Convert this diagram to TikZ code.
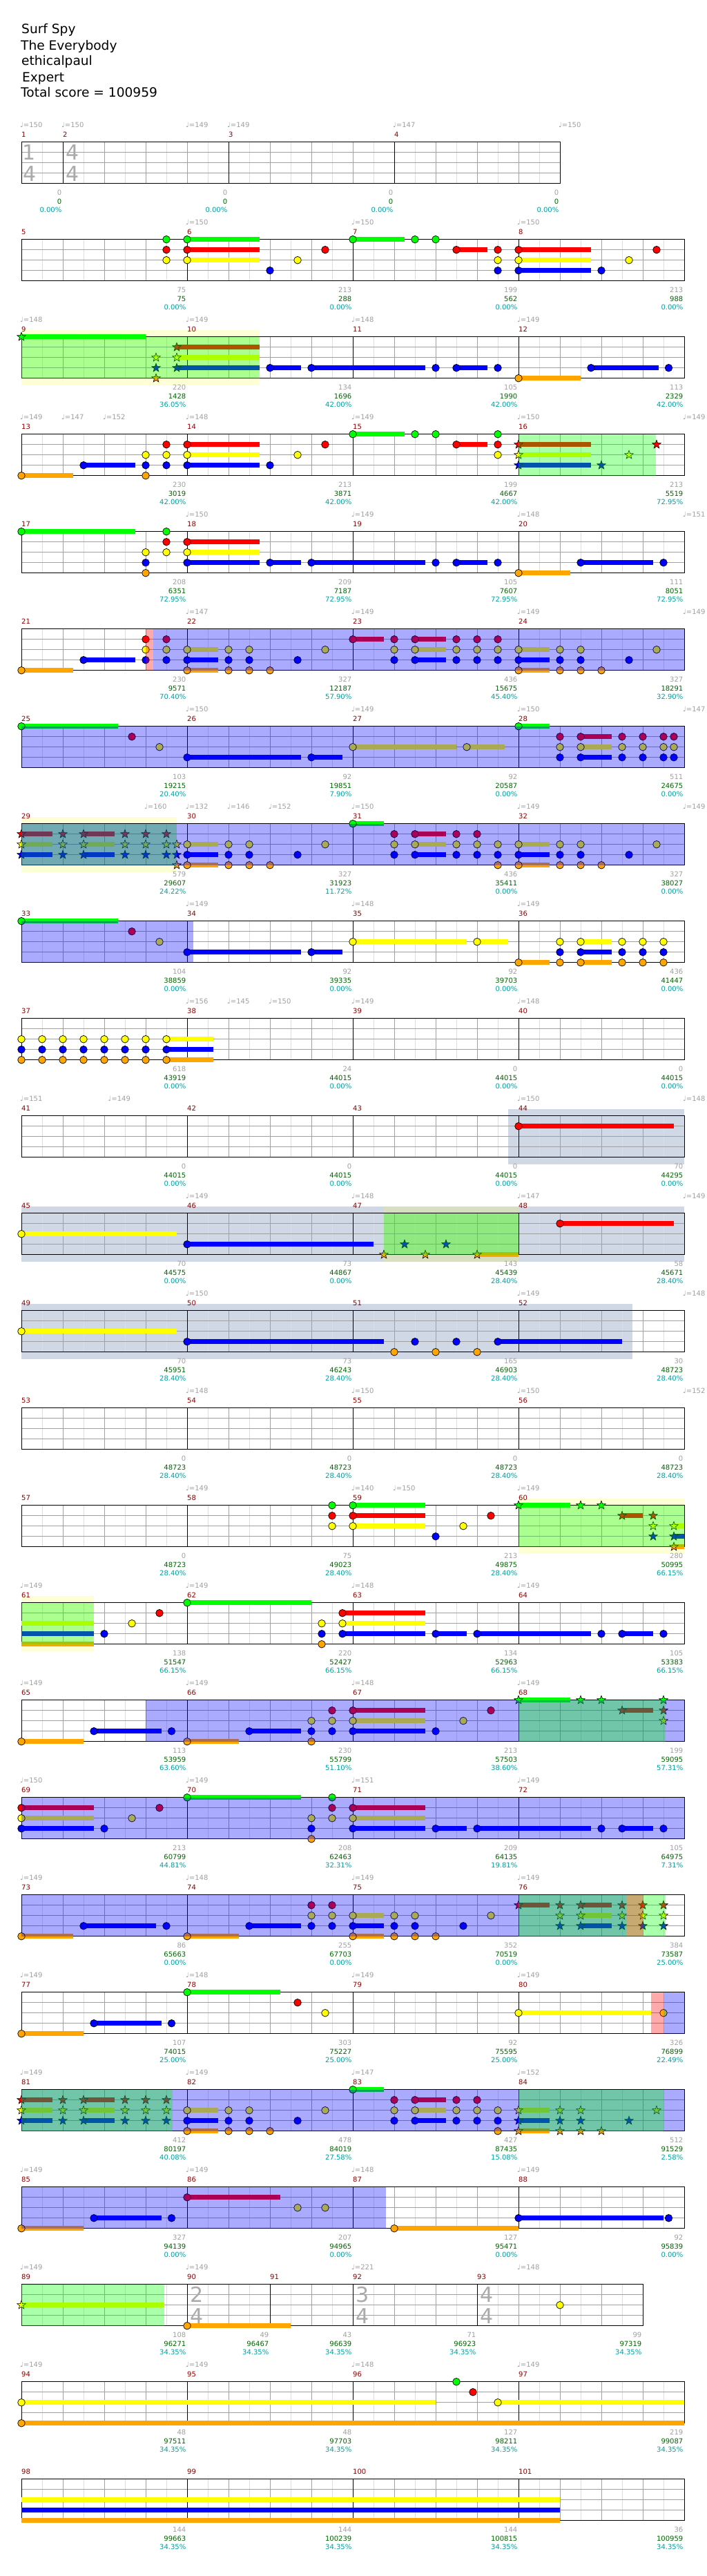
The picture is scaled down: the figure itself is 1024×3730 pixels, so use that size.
\documentclass[tikz,border=0pt]{standalone}
\usepackage{fontspec}
\setmainfont{DejaVu Sans}
\definecolor{nG}{RGB}{0,255,0}
\definecolor{nR}{RGB}{255,0,0}
\definecolor{nY}{RGB}{255,255,0}
\definecolor{nB}{RGB}{0,0,255}
\definecolor{nO}{RGB}{255,165,0}
\definecolor{gridA}{RGB}{160,160,160}
\definecolor{gridB}{RGB}{222,222,222}
\definecolor{mnumc}{RGB}{139,0,0}
\definecolor{txgray}{RGB}{160,160,160}
\definecolor{txgreen}{RGB}{0,100,0}
\definecolor{txteal}{RGB}{0,160,160}
\definecolor{solo}{RGB}{209,216,229}
\definecolor{tsig}{RGB}{170,170,170}
\def\laneG{0}\def\laneR{1}\def\laneY{2}\def\laneB{3}\def\laneO{4}
\newcommand\fsm{\fontsize{10}{12}\selectfont}
\newcommand\ftitle{\fontsize{18.6}{22}\selectfont}
\tikzset{
  mnum/.style={anchor=base west,inner sep=0,yshift=7pt,text=mnumc,font=\fsm},
  tmp/.style={anchor=base west,inner sep=0,yshift=21pt,xshift=-2pt,text=txgray,font=\fsm},
  tg/.style={anchor=base east,inner sep=0,xshift=-1.5pt,yshift=-16.4pt,text=txgray,font=\fsm},
  tgr/.style={anchor=base east,inner sep=0,xshift=-1.5pt,yshift=-30pt,text=txgreen,font=\fsm},
  tte/.style={anchor=base east,inner sep=0,xshift=-1.5pt,yshift=-42pt,text=txteal,font=\fsm},
  tsg/.style={inner sep=0,text=tsig,font=\fontsize{30}{30}\selectfont},
  ttl/.style={anchor=base west,inner sep=0,font=\ftitle}
}
\newcommand\staffgrid[1]{%
  \foreach \i in {1,...,#1}{\draw[gridB,line width=0.8pt] (\i-0.5,0) -- (\i-0.5,4);}
  \foreach \i in {1,...,#1}{\draw[gridA,line width=0.8pt] (\i,0) -- (\i,4);}
  \foreach \j in {1,2,3}{\draw[gridA,line width=0.8pt] (0,\j) -- (#1,\j);}}
\newcommand\mline[2]{\draw[black,line width=0.8pt] (#1,0) -- (#1,4); \node[mnum] at (#1,0) {#2};}
\newcommand\border[1]{\draw[black,line width=1pt] (0,0) rectangle (#1,4);}
\newcommand\fourm[4]{\staffgrid{16}\mline{0}{#1}\mline{4}{#2}\mline{8}{#3}\mline{12}{#4}\border{16}}
\newcommand\tempo[2]{\node[tmp] at (#1,0) {\char"2669=#2};}
\newcommand\mt[4]{\node[tg] at (#1,4) {#2}; \node[tgr] at (#1,4) {#3}; \node[tte] at (#1,4) {#4};}
\newcommand\ch[2]{\foreach \l in {#2}{\filldraw[fill=n\l,draw=black,line width=0.7pt] (#1,{\csname lane\l\endcsname}) circle[radius=5.3pt];}}
\newcommand\su[3]{\foreach \l in {#3}{\fill[n\l] (#1,{\csname lane\l\endcsname-0.222}) rectangle (#2,{\csname lane\l\endcsname+0.222});}}
\newcommand\st[2]{\foreach \l in {#2}{\filldraw[fill=n\l,draw=black,line width=0.6pt,shift={(#1,{\csname lane\l\endcsname})}] (90:6.5pt)--(126:2.7pt)--(162:6.5pt)--(198:2.7pt)--(234:6.5pt)--(270:2.7pt)--(306:6.5pt)--(342:2.7pt)--(18:6.5pt)--(54:2.7pt)--cycle;}}
\newcommand\ovG[2]{\fill[nG,opacity=0.333] (#1,0) rectangle (#2,4);}
\newcommand\ovB[2]{\fill[nB,opacity=0.333] (#1,0) rectangle (#2,4);}
\newcommand\ovR[2]{\fill[nR,opacity=0.333] (#1,0) rectangle (#2,4);}
\newcommand\zY[2]{\fill[nY,opacity=0.16] (#1,-0.667) rectangle (#2,4.667);}
\newcommand\zS[2]{\fill[solo] (#1,-0.667) rectangle (#2,4.667);}
\begin{document}
\begin{tikzpicture}
\useasboundingbox (0,0) rectangle (1024pt,-3730pt);
\fill[white] (0,0) rectangle (1024pt,-3730pt);
\node[ttl] (t1) at (31pt,-49pt) {Surf Spy};
\node[ttl] (t2) at (30pt,-72.3pt) {The Everybody};
\node[ttl] (t3) at (31pt,-95pt) {ethicalpaul};
\node[ttl] (t4) at (32pt,-118.3pt) {Expert};
\node[ttl] (t5) at (30pt,-141pt) {Total score = 100959};
% ROW 1
\begin{scope}[shift={(31pt,-205.7pt)},x=60pt,y=-15pt]
\staffgrid{13}\mline{0}{1}\mline{1}{2}\mline{5}{3}\mline{9}{4}\border{13}
\node[tsg] at (0.18,1) {1};\node[tsg] at (0.2,3.07) {4};
\node[tsg] at (1.23,1) {4};\node[tsg] at (1.23,3.07) {4};
\tempo{0}{150}\tempo{1}{150}\tempo{4}{149}\tempo{5}{149}\tempo{9}{147}\tempo{13}{150}
\mt{1}{0}{0}{0.00\%}\mt{5}{0}{0}{0.00\%}\mt{9}{0}{0}{0.00\%}\mt{13}{0}{0}{0.00\%}
\end{scope}
% ROW 2
\begin{scope}[shift={(31pt,-346.7pt)},x=60pt,y=-15pt]
\fourm{5}{6}{7}{8}
\tempo{4}{150}\tempo{8}{150}\tempo{12}{150}
\su{4}{5.75}{G,R,Y}\su{8}{9.25}{G}\su{10.5}{11.25}{R}\su{12}{13.75}{R,Y,B}
\ch{3.5}{G,R,Y}\ch{4}{G,R,Y}\ch{6}{B}\ch{6.667}{Y}\ch{7.333}{R}\ch{8}{G}\ch{9.5}{G}\ch{10}{G}\ch{10.5}{R}\ch{11.5}{R,Y,B}\ch{12}{R,Y,B}\ch{14}{B}\ch{14.667}{Y}\ch{15.333}{R}
\mt{4}{75}{75}{0.00\%}\mt{8}{213}{288}{0.00\%}\mt{12}{199}{562}{0.00\%}\mt{16}{213}{988}{0.00\%}
\end{scope}
% ROW 3
\begin{scope}[shift={(31pt,-487.7pt)},x=60pt,y=-15pt]
\zY{0}{5.75}
\fourm{9}{10}{11}{12}
\tempo{0}{148}\tempo{4}{149}\tempo{8}{148}\tempo{12}{149}
\su{0}{3}{G}\su{3.75}{5.75}{R,Y,B}\su{6}{6.75}{B}\su{7}{9.75}{B}\su{10.5}{11.25}{B}\su{12}{13.5}{O}\su{13.75}{15.375}{B}
\st{0}{G}\st{3.25}{Y,B,O}\st{3.75}{R,Y,B}
\ch{6}{B}\ch{7}{B}\ch{10}{B}\ch{10.5}{B}\ch{11.5}{B}\ch{12}{O}\ch{13.75}{B}\ch{15.625}{B}
\ovG{0}{5.75}
\mt{4}{220}{1428}{36.05\%}\mt{8}{134}{1696}{42.00\%}\mt{12}{105}{1990}{42.00\%}\mt{16}{113}{2329}{42.00\%}
\end{scope}
% ROW 4
\begin{scope}[shift={(31pt,-628.7pt)},x=60pt,y=-15pt]
\fourm{13}{14}{15}{16}
\tempo{0}{149}\tempo{1}{147}\tempo{2}{152}\tempo{4}{148}\tempo{8}{149}\tempo{12}{150}\tempo{16}{149}
\su{0}{1.25}{O}\su{1.5}{2.75}{B}\su{4}{5.75}{R,Y,B}\su{8}{9.25}{G}\su{10.5}{11.25}{R}\su{12}{13.75}{R,Y,B}
\ch{0}{O}\ch{1.5}{B}\ch{3}{Y,B,O}\ch{3.5}{R,Y,B}\ch{4}{R,Y,B}\ch{6}{B}\ch{6.667}{Y}\ch{7.333}{R}\ch{8}{G}\ch{9.5}{G}\ch{10}{G}\ch{10.5}{R}\ch{11.5}{G,R,Y}
\st{12}{R,Y,B}\st{14}{B}\st{14.667}{Y}
\ovG{12}{15.31}
\st{15.333}{R}
\mt{4}{230}{3019}{42.00\%}\mt{8}{213}{3871}{42.00\%}\mt{12}{199}{4667}{42.00\%}\mt{16}{213}{5519}{72.95\%}
\end{scope}
% ROW 5
\begin{scope}[shift={(31pt,-769.7pt)},x=60pt,y=-15pt]
\fourm{17}{18}{19}{20}
\tempo{4}{150}\tempo{8}{149}\tempo{12}{148}\tempo{16}{151}
\su{0}{2.75}{G}\su{4}{5.75}{R,Y,B}\su{6}{6.75}{B}\su{7}{9.75}{B}\su{10.5}{11.25}{B}\su{12}{13.25}{O}\su{13.5}{15.25}{B}
\ch{0}{G}\ch{3}{Y,B,O}\ch{3.5}{G,R,Y}\ch{4}{R,Y,B}\ch{6}{B}\ch{7}{B}\ch{10}{B}\ch{10.5}{B}\ch{11.5}{B}\ch{12}{O}\ch{13.5}{B}\ch{15.5}{B}
\mt{4}{208}{6351}{72.95\%}\mt{8}{209}{7187}{72.95\%}\mt{12}{105}{7607}{72.95\%}\mt{16}{111}{8051}{72.95\%}
\end{scope}
% ROW 6
\begin{scope}[shift={(31pt,-910.7pt)},x=60pt,y=-15pt]
\fourm{21}{22}{23}{24}
\tempo{4}{147}\tempo{8}{149}\tempo{12}{149}\tempo{16}{149}
\su{0}{1.25}{O}\su{1.5}{2.75}{B}\su{4}{4.75}{Y,B,O}\su{8}{8.75}{R}\su{9.5}{10.25}{R,Y,B}\su{12}{12.75}{Y,B,O}
\ch{0}{O}\ch{1.5}{B}\ch{3}{R,Y,B}\ch{3.5}{R,Y,B}\ch{4}{Y,B,O}\ch{5}{Y,B,O}\ch{5.5}{Y,B,O}\ch{6}{O}\ch{6.667}{B}\ch{7.333}{Y}\ch{8}{R}\ch{9}{R,Y,B}\ch{9.5}{R,Y,B}\ch{10.5}{R,Y,B}\ch{11}{R,Y,B}\ch{11.5}{R,Y,B}\ch{12}{Y,B,O}\ch{13}{Y,B,O}\ch{13.5}{Y,B,O}\ch{14}{O}\ch{14.667}{B}\ch{15.333}{Y}
\ovR{3}{3.18}\ovB{3.18}{16}
\mt{4}{230}{9571}{70.40\%}\mt{8}{327}{12187}{57.90\%}\mt{12}{436}{15675}{45.40\%}\mt{16}{327}{18291}{32.90\%}
\end{scope}
% ROW 7
\begin{scope}[shift={(31pt,-1051.7pt)},x=60pt,y=-15pt]
\fourm{25}{26}{27}{28}
\tempo{4}{150}\tempo{8}{149}\tempo{12}{150}\tempo{16}{147}
\su{0}{2.33}{G}\su{4}{6.75}{B}\su{7}{7.75}{B}\su{8}{10.5}{Y}\su{10.75}{11.67}{Y}\su{12}{12.75}{G}\su{13.5}{14.25}{R,Y,B}
\ch{0}{G}\ch{2.667}{R}\ch{3.333}{Y}\ch{4}{B}\ch{7}{B}\ch{8}{Y}\ch{10.75}{Y}\ch{12}{G}\ch{13}{R,Y,B}\ch{13.5}{R,Y,B}\ch{14.5}{R,Y,B}\ch{15}{R,Y,B}\ch{15.5}{R,Y,B}\ch{15.75}{R,Y,B}
\ovB{0}{16}
\mt{4}{103}{19215}{20.40\%}\mt{8}{92}{19851}{7.90\%}\mt{12}{92}{20587}{0.00\%}\mt{16}{511}{24675}{0.00\%}
\end{scope}
% ROW 8
\begin{scope}[shift={(31pt,-1192.7pt)},x=60pt,y=-15pt]
\zY{0}{3.75}
\fourm{29}{30}{31}{32}
\tempo{3}{160}\tempo{4}{132}\tempo{5}{146}\tempo{6}{152}\tempo{8}{150}\tempo{12}{149}\tempo{16}{149}
\su{0}{0.75}{R,Y,B}\su{1.5}{2.25}{R,Y,B}\su{4}{4.75}{Y,B,O}\su{8}{8.75}{G}\su{9.5}{10.25}{R,Y,B}\su{12}{12.75}{Y,B,O}
\st{0}{R,Y,B}\st{1}{R,Y,B}\st{1.5}{R,Y,B}\st{2.5}{R,Y,B}\st{3}{R,Y,B}\st{3.5}{R,Y,B}\st{3.75}{Y,B,O}
\ch{4}{Y,B,O}\ch{5}{Y,B,O}\ch{5.5}{Y,B,O}\ch{6}{O}\ch{6.667}{B}\ch{7.333}{Y}\ch{8}{G}\ch{9}{R,Y,B}\ch{9.5}{R,Y,B}\ch{10.5}{R,Y,B}\ch{11}{R,Y,B}\ch{11.5}{Y,B,O}\ch{12}{Y,B,O}\ch{13}{Y,B,O}\ch{13.5}{Y,B,O}\ch{14}{O}\ch{14.667}{B}\ch{15.333}{Y}
\ovG{0}{3.75}\ovB{0}{16}
\mt{4}{579}{29607}{24.22\%}\mt{8}{327}{31923}{11.72\%}\mt{12}{436}{35411}{0.00\%}\mt{16}{327}{38027}{0.00\%}
\end{scope}
% ROW 9
\begin{scope}[shift={(31pt,-1333.7pt)},x=60pt,y=-15pt]
\fourm{33}{34}{35}{36}
\tempo{4}{149}\tempo{8}{148}\tempo{12}{149}
\su{0}{2.33}{G}\su{4}{6.75}{B}\su{7}{7.75}{B}\su{8}{10.75}{Y}\su{11}{11.75}{Y}\su{12}{12.75}{O}\su{13.5}{14.25}{Y,B,O}
\ch{0}{G}\ch{2.667}{R}\ch{3.333}{Y}\ch{4}{B}\ch{7}{B}\ch{8}{Y}\ch{11}{Y}\ch{12}{O}\ch{13}{Y,B,O}\ch{13.5}{Y,B,O}\ch{14.5}{Y,B,O}\ch{15}{Y,B,O}\ch{15.5}{Y,B,O}
\ovB{0}{4.15}
\mt{4}{104}{38859}{0.00\%}\mt{8}{92}{39335}{0.00\%}\mt{12}{92}{39703}{0.00\%}\mt{16}{436}{41447}{0.00\%}
\end{scope}
% ROW 10
\begin{scope}[shift={(31pt,-1474.7pt)},x=60pt,y=-15pt]
\fourm{37}{38}{39}{40}
\tempo{4}{156}\tempo{5}{145}\tempo{6}{150}\tempo{8}{149}\tempo{12}{148}
\su{3.5}{4.625}{Y,B,O}
\foreach \bb in {0,0.5,...,3.5}{\ch{\bb}{Y,B,O}}
\mt{4}{618}{43919}{0.00\%}\mt{8}{24}{44015}{0.00\%}\mt{12}{0}{44015}{0.00\%}\mt{16}{0}{44015}{0.00\%}
\end{scope}
% ROW 11
\begin{scope}[shift={(31pt,-1615.7pt)},x=60pt,y=-15pt]
\zS{11.75}{16}
\fourm{41}{42}{43}{44}
\tempo{0}{151}\tempo{2.125}{149}\tempo{12}{150}\tempo{16}{148}
\su{12}{15.75}{R}\ch{12}{R}
\mt{4}{0}{44015}{0.00\%}\mt{8}{0}{44015}{0.00\%}\mt{12}{0}{44015}{0.00\%}\mt{16}{70}{44295}{0.00\%}
\end{scope}
% ROW 12
\begin{scope}[shift={(31pt,-1756.7pt)},x=60pt,y=-15pt]
\zS{0}{16}\zY{8.75}{12}
\fourm{45}{46}{47}{48}
\tempo{4}{149}\tempo{8}{148}\tempo{12}{147}\tempo{16}{149}
\su{0}{3.75}{Y}\su{4}{8.5}{B}\su{11}{12}{O}\su{13}{15.75}{R}
\ch{0}{Y}\ch{4}{B}\ch{13}{R}
\st{8.75}{O}\st{9.25}{B}\st{9.75}{O}\st{10.25}{B}\st{11}{O}
\ovG{8.75}{12}
\mt{4}{70}{44575}{0.00\%}\mt{8}{73}{44867}{0.00\%}\mt{12}{143}{45439}{28.40\%}\mt{16}{58}{45671}{28.40\%}
\end{scope}
% ROW 13
\begin{scope}[shift={(31pt,-1897.7pt)},x=60pt,y=-15pt]
\zS{0}{14.75}
\fourm{49}{50}{51}{52}
\tempo{4}{150}\tempo{12}{149}\tempo{16}{148}
\su{0}{3.75}{Y}\su{4}{8.75}{B}\su{11.5}{14.5}{B}
\ch{0}{Y}\ch{4}{B}\ch{9}{O}\ch{9.5}{B}\ch{10}{O}\ch{10.5}{B}\ch{11}{O}\ch{11.5}{B}
\mt{4}{70}{45951}{28.40\%}\mt{8}{73}{46243}{28.40\%}\mt{12}{165}{46903}{28.40\%}\mt{16}{30}{48723}{28.40\%}
\end{scope}
% ROW 14
\begin{scope}[shift={(31pt,-2038.7pt)},x=60pt,y=-15pt]
\fourm{53}{54}{55}{56}
\tempo{4}{148}\tempo{8}{150}\tempo{12}{150}\tempo{16}{152}
\mt{4}{0}{48723}{28.40\%}\mt{8}{0}{48723}{28.40\%}\mt{12}{0}{48723}{28.40\%}\mt{16}{0}{48723}{28.40\%}
\end{scope}
% ROW 15
\begin{scope}[shift={(31pt,-2179.7pt)},x=60pt,y=-15pt]
\zY{12}{16}
\fourm{57}{58}{59}{60}
\tempo{4}{149}\tempo{8}{140}\tempo{9}{150}\tempo{12}{149}
\su{8}{9.75}{G,R,Y}\su{12}{13.25}{G}\su{14.5}{15}{R}\su{15.75}{16}{Y,B,O}
\ch{7.5}{G,R,Y}\ch{8}{G,R,Y}\ch{10}{B}\ch{10.667}{Y}\ch{11.333}{R}
\st{12}{G}\st{13.5}{G}\st{14}{G}\st{14.5}{R}\st{15.25}{R,Y,B}\st{15.75}{Y,B,O}
\ovG{12}{16}
\mt{4}{0}{48723}{28.40\%}\mt{8}{75}{49023}{28.40\%}\mt{12}{213}{49875}{28.40\%}\mt{16}{280}{50995}{66.15\%}
\end{scope}
% ROW 16
\begin{scope}[shift={(31pt,-2320.7pt)},x=60pt,y=-15pt]
\zY{0}{1.75}
\fourm{61}{62}{63}{64}
\tempo{0}{149}\tempo{4}{149}\tempo{8}{148}\tempo{12}{149}
\su{0}{1.75}{Y,B,O}\su{4}{7}{G}\su{7.75}{9.75}{R,Y,B}\su{10}{10.75}{B}\su{11}{13.75}{B}\su{14.5}{15.25}{B}
\ch{2}{B}\ch{2.667}{Y}\ch{3.333}{R}\ch{4}{G}\ch{7.25}{Y,B,O}\ch{7.75}{R,Y,B}\ch{10}{B}\ch{11}{B}\ch{14}{B}\ch{14.5}{B}\ch{15.5}{B}
\ovG{0}{1.75}
\mt{4}{138}{51547}{66.15\%}\mt{8}{220}{52427}{66.15\%}\mt{12}{134}{52963}{66.15\%}\mt{16}{105}{53383}{66.15\%}
\end{scope}
% ROW 17
\begin{scope}[shift={(31pt,-2461.7pt)},x=60pt,y=-15pt]
\fourm{65}{66}{67}{68}
\tempo{0}{149}\tempo{4}{149}\tempo{8}{148}\tempo{12}{149}
\su{0}{1.5}{O}\su{1.75}{3.375}{B}\su{4}{5.25}{O}\su{5.5}{6.75}{B}\su{8}{9.75}{R,Y,B}\su{12}{13.25}{G}\su{14.5}{15.25}{R}
\ch{0}{O}\ch{1.75}{B}\ch{3.625}{B}\ch{4}{O}\ch{5.5}{B}\ch{7}{Y,B,O}\ch{7.5}{R,Y,B}\ch{8}{R,Y,B}\ch{10}{B}\ch{10.667}{Y}\ch{11.333}{R}
\st{12}{G}\st{13.5}{G}\st{14}{G}\st{14.5}{R}\st{15.5}{G,R,Y}
\ovB{3}{16}\ovG{12}{15.55}
\mt{4}{113}{53959}{63.60\%}\mt{8}{230}{55799}{51.10\%}\mt{12}{213}{57503}{38.60\%}\mt{16}{199}{59095}{57.31\%}
\end{scope}
% ROW 18
\begin{scope}[shift={(31pt,-2602.7pt)},x=60pt,y=-15pt]
\fourm{69}{70}{71}{72}
\tempo{0}{150}\tempo{4}{149}\tempo{8}{151}\tempo{12}{149}
\su{0}{1.75}{R,Y,B}\su{4}{6.75}{G}\su{8}{9.75}{R,Y,B}\su{10}{10.75}{B}\su{11}{13.75}{B}\su{14.5}{15.25}{B}
\ch{0}{R,Y,B}\ch{2}{B}\ch{2.667}{Y}\ch{3.333}{R}\ch{4}{G}\ch{7}{Y,B,O}\ch{7.5}{G,R,Y}\ch{8}{R,Y,B}\ch{10}{B}\ch{11}{B}\ch{14}{B}\ch{14.5}{B}\ch{15.5}{B}
\ovB{0}{16}
\mt{4}{213}{60799}{44.81\%}\mt{8}{208}{62463}{32.31\%}\mt{12}{209}{64135}{19.81\%}\mt{16}{105}{64975}{7.31\%}
\end{scope}
% ROW 19
\begin{scope}[shift={(31pt,-2743.7pt)},x=60pt,y=-15pt]
\fourm{73}{74}{75}{76}
\tempo{0}{149}\tempo{4}{148}\tempo{8}{149}\tempo{12}{149}
\su{0}{1.25}{O}\su{1.5}{3.25}{B}\su{4}{5.25}{O}\su{5.5}{6.75}{B}\su{8}{8.75}{Y,B,O}\su{12}{12.75}{R}\su{13.5}{14.25}{R,Y,B}
\ch{0}{O}\ch{1.5}{B}\ch{3.5}{B}\ch{4}{O}\ch{5.5}{B}\ch{7}{R,Y,B}\ch{7.5}{R,Y,B}\ch{8}{Y,B,O}\ch{9}{Y,B,O}\ch{9.5}{Y,B,O}\ch{10}{O}\ch{10.667}{B}\ch{11.333}{Y}
\st{12}{R}\st{13}{R,Y,B}\st{13.5}{R,Y,B}\st{14.5}{R,Y,B}\st{15}{R,Y,B}\st{15.5}{R,Y,B}
\ovB{0}{14.6}\ovG{12}{15.55}\ovR{14.6}{15}
\mt{4}{86}{65663}{0.00\%}\mt{8}{255}{67703}{0.00\%}\mt{12}{352}{70519}{0.00\%}\mt{16}{384}{73587}{25.00\%}
\end{scope}
% ROW 20
\begin{scope}[shift={(31pt,-2884.7pt)},x=60pt,y=-15pt]
\fourm{77}{78}{79}{80}
\tempo{0}{149}\tempo{4}{148}\tempo{8}{149}\tempo{12}{149}
\su{0}{1.5}{O}\su{1.75}{3.375}{B}\su{4}{6.25}{G}\su{12}{15.2}{Y}
\ch{0}{O}\ch{1.75}{B}\ch{3.625}{B}\ch{4}{G}\ch{6.667}{R}\ch{7.333}{Y}\ch{12}{Y}\ch{15.5}{Y}
\ovR{15.2}{15.5}\ovB{15.5}{16}
\mt{4}{107}{74015}{25.00\%}\mt{8}{303}{75227}{25.00\%}\mt{12}{92}{75595}{25.00\%}\mt{16}{326}{76899}{22.49\%}
\end{scope}
% ROW 21
\begin{scope}[shift={(31pt,-3025.7pt)},x=60pt,y=-15pt]
\fourm{81}{82}{83}{84}
\tempo{0}{149}\tempo{4}{149}\tempo{8}{147}\tempo{12}{152}
\su{0}{0.75}{R,Y,B}\su{1.5}{2.25}{R,Y,B}\su{4}{4.75}{Y,B,O}\su{8}{8.75}{G}\su{9.5}{10.25}{R,Y,B}\su{12}{12.75}{Y,B,O}
\st{0}{R,Y,B}\st{1}{R,Y,B}\st{1.5}{R,Y,B}\st{2.5}{R,Y,B}\st{3}{R,Y,B}\st{3.5}{R,Y,B}
\ch{4}{Y,B,O}\ch{5}{Y,B,O}\ch{5.5}{Y,B,O}\ch{6}{O}\ch{6.667}{B}\ch{7.333}{Y}\ch{8}{G}\ch{9}{R,Y,B}\ch{9.5}{R,Y,B}\ch{10.5}{R,Y,B}\ch{11}{R,Y,B}\ch{11.5}{Y,B,O}
\st{12}{Y,B,O}\st{13}{Y,B,O}\st{13.5}{Y,B,O}\st{14}{O}\st{14.667}{B}\st{15.333}{Y}
\ovB{0}{16}\ovG{0}{3.65}\ovG{12}{15.5}
\mt{4}{412}{80197}{40.08\%}\mt{8}{478}{84019}{27.58\%}\mt{12}{427}{87435}{15.08\%}\mt{16}{512}{91529}{2.58\%}
\end{scope}
% ROW 22
\begin{scope}[shift={(31pt,-3166.7pt)},x=60pt,y=-15pt]
\fourm{85}{86}{87}{88}
\tempo{0}{149}\tempo{4}{149}\tempo{8}{148}\tempo{12}{149}
\su{0}{1.5}{O}\su{1.75}{3.375}{B}\su{4}{6.25}{R}\su{9}{12}{O}\su{12}{15.5}{B}
\ch{0}{O}\ch{1.75}{B}\ch{3.625}{B}\ch{4}{R}\ch{6.667}{Y}\ch{7.333}{Y}\ch{9}{O}\ch{12}{B}\ch{15.625}{B}
\ovB{0}{8.8}
\mt{4}{327}{94139}{0.00\%}\mt{8}{207}{94965}{0.00\%}\mt{12}{127}{95471}{0.00\%}\mt{16}{92}{95839}{0.00\%}
\end{scope}
% ROW 23
\begin{scope}[shift={(31pt,-3307.7pt)},x=60pt,y=-15pt]
\staffgrid{15}\mline{0}{89}\mline{4}{90}\mline{6}{91}\mline{8}{92}\mline{11}{93}\border{15}
\node[tsg] at (4.23,1) {2};\node[tsg] at (4.23,3.07) {4};
\node[tsg] at (8.23,1) {3};\node[tsg] at (8.23,3.07) {4};
\node[tsg] at (11.23,1) {4};\node[tsg] at (11.23,3.07) {4};
\tempo{0}{149}\tempo{4}{149}\tempo{8}{221}\tempo{12}{148}
\su{0}{3.45}{Y}\su{4}{6.5}{O}
\st{0}{Y}\ch{4}{O}\ch{13}{Y}
\ovG{0}{3.45}
\mt{4}{108}{96271}{34.35\%}\mt{6}{49}{96467}{34.35\%}\mt{8}{43}{96639}{34.35\%}\mt{11}{71}{96923}{34.35\%}\mt{15}{99}{97319}{34.35\%}
\end{scope}
% ROW 24
\begin{scope}[shift={(31pt,-3448.7pt)},x=60pt,y=-15pt]
\fourm{94}{95}{96}{97}
\tempo{0}{149}\tempo{4}{149}\tempo{8}{148}\tempo{12}{149}
\su{0}{10}{Y}\su{11.5}{16}{Y}\su{0}{16}{O}
\ch{0}{Y,O}\ch{10.5}{G}\ch{10.9}{R}\ch{11.5}{Y}
\mt{4}{48}{97511}{34.35\%}\mt{8}{48}{97703}{34.35\%}\mt{12}{127}{98211}{34.35\%}\mt{16}{219}{99087}{34.35\%}
\end{scope}
% ROW 25
\begin{scope}[shift={(31pt,-3589.7pt)},x=60pt,y=-15pt]
\fourm{98}{99}{100}{101}
\su{0}{13}{Y,B,O}
\mt{4}{144}{99663}{34.35\%}\mt{8}{144}{100239}{34.35\%}\mt{12}{144}{100815}{34.35\%}\mt{16}{36}{100959}{34.35\%}
\end{scope}
\end{tikzpicture}
\end{document}
